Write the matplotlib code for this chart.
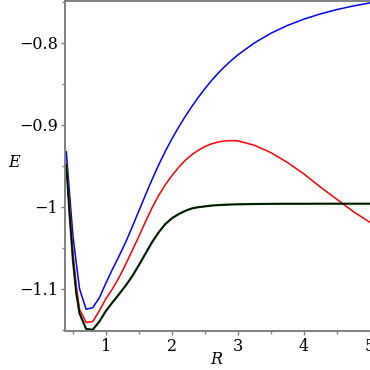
import matplotlib
import matplotlib.pyplot as plt
from matplotlib.ticker import MultipleLocator

matplotlib.use("Agg")

# bond length R and energies E
r_vals = [0.40, 0.45, 0.50, 0.55, 0.60, 0.70, 0.80, 0.90,
          1.0, 1.1, 1.2, 1.3, 1.4, 1.5, 1.6, 1.7, 1.8, 1.9,
          2.0, 2.1, 2.2, 2.3, 2.4, 2.5, 2.6, 2.7, 2.8, 2.9, 3.0,
          3.25, 3.50, 3.75, 4.00, 4.25, 4.50, 4.75, 5.00]
e_blue = [-0.933, -0.985, -1.035, -1.068, -1.100, -1.125, -1.123, -1.111,
          -1.093, -1.076, -1.060, -1.043, -1.0242, -1.0048, -0.9854,
          -0.9665, -0.9487, -0.9322,
          -0.9170, -0.9030, -0.8900, -0.8778, -0.8664, -0.8558, -0.8460,
          -0.8370, -0.8288, -0.8214, -0.8146,
          -0.8001, -0.7883, -0.7788, -0.7711, -0.7647, -0.7594, -0.7550,
          -0.7513]
e_red = [-0.947, -1.000, -1.055, -1.095, -1.125, -1.141, -1.140, -1.127,
         -1.112, -1.100, -1.086, -1.070, -1.053, -1.036, -1.018, -1.001,
         -0.986, -0.973,
         -0.962, -0.952, -0.9435, -0.9365, -0.931, -0.9265, -0.9232,
         -0.921, -0.9197, -0.9193, -0.9196,
         -0.925, -0.934, -0.946, -0.960, -0.976, -0.991, -1.006, -1.019]
e_green = [-0.949, -1.010, -1.065, -1.105, -1.130, -1.149, -1.150, -1.140,
           -1.127, -1.1165, -1.1065, -1.096, -1.0845, -1.071, -1.057,
           -1.043, -1.031, -1.021,
           -1.014, -1.009, -1.005, -1.002, -1.0005, -0.9995, -0.9985,
           -0.998, -0.9975, -0.9972, -0.997,
           -0.9966, -0.9964, -0.9963, -0.9963, -0.9962, -0.9962, -0.9962,
           -0.9962]
e_black = [-0.949, -1.010, -1.065, -1.105, -1.130, -1.149, -1.150, -1.140,
           -1.127, -1.1165, -1.1065, -1.096, -1.0845, -1.071, -1.057,
           -1.043, -1.031, -1.021,
           -1.014, -1.009, -1.005, -1.002, -1.0005, -0.9995, -0.9985,
           -0.998, -0.9975, -0.9972, -0.997,
           -0.9966, -0.9964, -0.9963, -0.9963, -0.9962, -0.9962, -0.9962,
           -0.9962]

x_ticks = [1, 2, 3, 4, 5]
y_ticks = [-1.1, -1.0, -0.9, -0.8]
y_tick_labels = ["\u22121.1", "\u22121", "\u22120.9", "\u22120.8"]

fig = plt.figure(figsize=(3.7, 3.7), dpi=100)
ax = fig.add_axes([65 / 370, 39 / 370, 305 / 370, 330 / 370])

ax.plot(r_vals, e_blue, color="#0000ff", lw=1.1)
ax.plot(r_vals, e_red, color="#ff0000", lw=1.1)
ax.plot(r_vals, e_green, color="#006000", lw=1.6)
ax.plot(r_vals, e_black, color="black", lw=0.9)

ax.set_xlim(0.38, 5.0)
ax.set_ylim(-1.1515, -0.749)

ax.set_xticks(x_ticks)
ax.set_xticklabels([str(v) for v in x_ticks])
ax.set_yticks(y_ticks)
ax.set_yticklabels(y_tick_labels)
ax.xaxis.set_minor_locator(MultipleLocator(0.5))
ax.yaxis.set_minor_locator(MultipleLocator(0.05))

ax.spines["right"].set_visible(False)
for side in ["left", "bottom", "top"]:
    ax.spines[side].set_color("#808080")
    ax.spines[side].set_linewidth(1.4)

ax.tick_params(which="both", direction="out", color="#808080", width=1.0,
               labelsize=11.5, labelcolor="black")
ax.tick_params(which="major", length=3, pad=2)
ax.tick_params(which="minor", length=2)
for lbl in ax.get_xticklabels() + ax.get_yticklabels():
    lbl.set_fontfamily("DejaVu Serif")

fig.text(8 / 370, 1 - 163 / 370, "E", fontsize=11.5, family="DejaVu Serif",
         style="italic", ha="left", va="center")
fig.text(216 / 370, 1 - 359 / 370, "R", fontsize=11.5, family="DejaVu Serif",
         style="italic", ha="center", va="center")

fig.savefig("out.png", dpi=100)
